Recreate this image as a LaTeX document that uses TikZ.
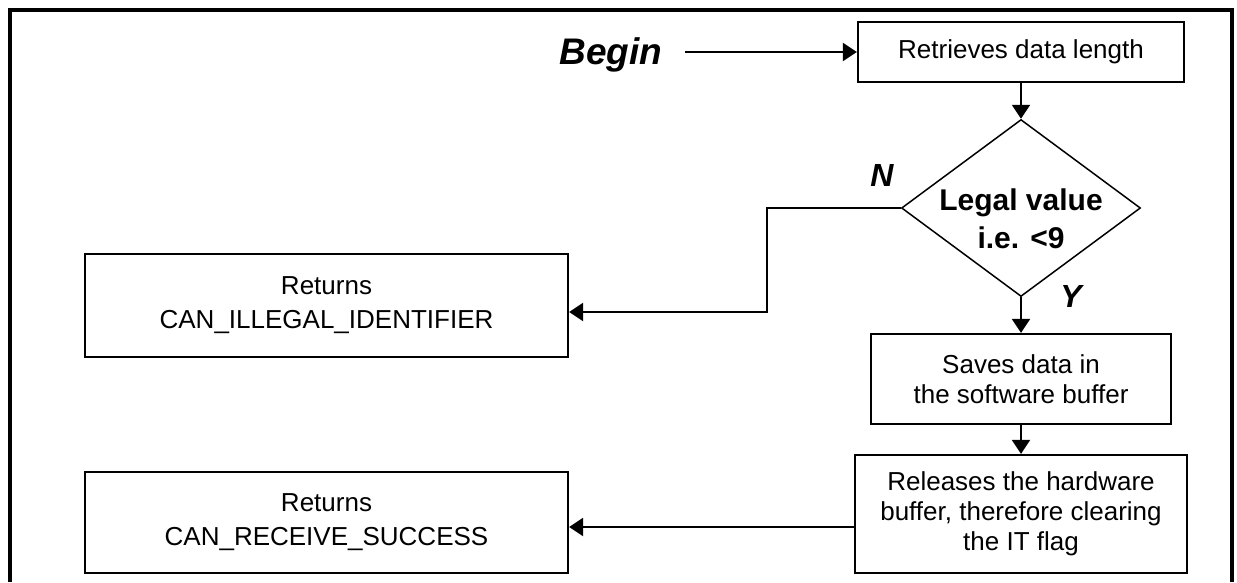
\documentclass[tikz,border=0pt]{standalone}
\usepackage{fontspec}
\setmainfont{Liberation Sans}
\usetikzlibrary{shapes.geometric,arrows.meta}
\begin{document}
\begin{tikzpicture}[x=1pt,y=-1pt,
  box/.style={draw,line width=2.2pt,inner sep=0pt,align=center,font=\fontsize{26}{30}\selectfont},
  retbox/.style={box,font=\fontsize{26}{34}\selectfont},
  arr/.style={line width=2pt,-{Triangle[length=14pt,width=18pt]}},
  lbl/.style={font=\fontsize{32}{36}\selectfont\bfseries\itshape,inner sep=0pt}]
\useasboundingbox (0,0) rectangle (1237,582);
\draw[line width=3.2pt] (10,582) -- (10,10) -- (1232,10) -- (1232,582);
% nodes
\node[lbl,font=\fontsize{37}{40}\selectfont\bfseries\itshape,anchor=base] (begin) at (611,64) {Begin};
\coordinate (bs) at (685,52);
\node[box,minimum width=326pt,minimum height=60pt] (ret) at (1021,52) {Retrieves data length};
\node[draw,diamond,line width=1.5pt,minimum width=239pt,minimum height=177pt,inner sep=0pt] (dec) at (1021,208) {};
\node[align=center,inner sep=0pt,font=\fontsize{30}{38}\selectfont\bfseries] (dect) at (1021,219) {Legal value\\i.e. <9};
\node[lbl] (nlab) at (882,175) {N};
\node[lbl] (ylab) at (1071,296) {Y};
\node[box,minimum width=300pt,minimum height=90pt] (save) at (1021,379) {Saves data in\\the software buffer};
\node[box,minimum width=332pt,minimum height=118pt] (rel) at (1021,514) {Releases the hardware\\buffer, therefore clearing\\the IT flag};
\node[retbox,minimum width=483pt,minimum height=103pt] (ill) at (326.5,305.5) {Returns\\CAN\_ILLEGAL\_IDENTIFIER};
\node[retbox,minimum width=483pt,minimum height=101pt] (suc) at (326.5,522.5) {Returns\\CAN\_RECEIVE\_SUCCESS};
% connectors
\coordinate (nb) at (767,312);
\coordinate (sy) at (700,527);
\draw[arr] (bs) -- (ret.west);
\draw[arr] (ret.south) -- (dec.north);
\draw[arr] (dec.west) -| (nb) -- (nb -| ill.east);
\draw[arr] (dec.south) -- (save.north);
\draw[arr] (save.south) -- (rel.north);
\draw[arr] (rel.west |- sy) -- (suc.east |- sy);
\end{tikzpicture}
\end{document}
